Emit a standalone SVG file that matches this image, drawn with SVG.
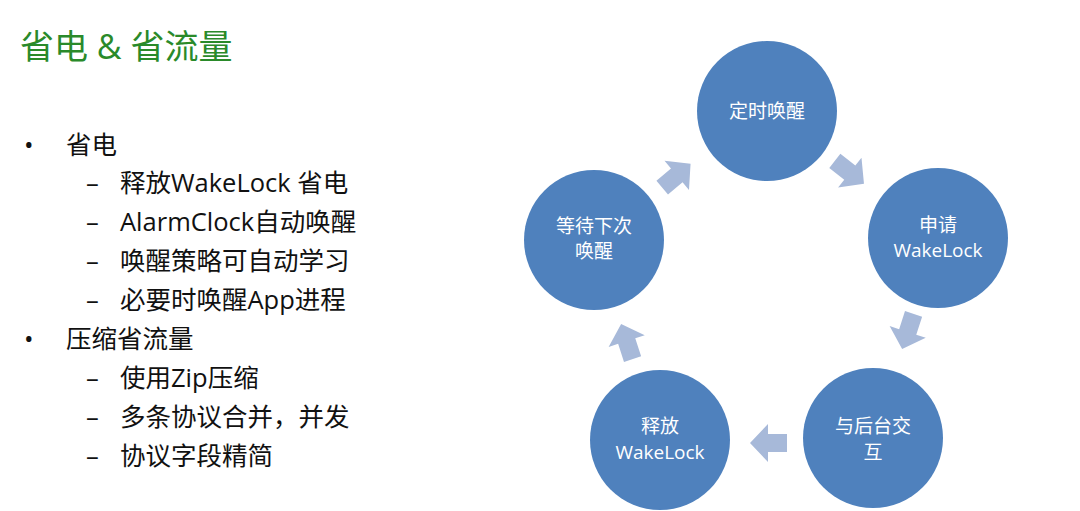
<svg xmlns="http://www.w3.org/2000/svg" width="1080" height="511" viewBox="0 0 1080 511">
<style>
text{font-family:"Open Sans","Noto Sans CJK SC",sans-serif}
.t{fill:#2a8a2a;font-size:34px}
.b{fill:#111;font-size:25.5px}
.c{fill:#4f81bd}
.l{fill:#fff;font-size:19px;text-anchor:middle}
.a{fill:#a7b9d9}
</style>
<defs><polygon id="arr" points="-18,-9 1,-9 1,-19 19,0 1,19 1,9 -18,9"/></defs>
<rect width="1080" height="511" fill="#fff"/>
<text class="t" x="20" y="59">省电 &amp; 省流量</text>
<g class="b">
<text x="24" y="154">•</text><text x="66" y="154">省电</text>
<text x="86" y="192">–</text><text x="120" y="192">释放WakeLock 省电</text>
<text x="86" y="231">–</text><text x="120" y="231">AlarmClock自动唤醒</text>
<text x="86" y="270">–</text><text x="120" y="270">唤醒策略可自动学习</text>
<text x="86" y="309">–</text><text x="120" y="309">必要时唤醒App进程</text>
<text x="24" y="348">•</text><text x="66" y="348">压缩省流量</text>
<text x="86" y="387">–</text><text x="120" y="387">使用Zip压缩</text>
<text x="86" y="426">–</text><text x="120" y="426">多条协议合并，并发</text>
<text x="86" y="465">–</text><text x="120" y="465">协议字段精简</text>
</g>
<g id="connectors" class="a">
<use href="#arr" transform="translate(676,176) rotate(-40)"/>
<use href="#arr" transform="translate(849,172) rotate(38)"/>
<use href="#arr" transform="translate(908,331) rotate(108)"/>
<use href="#arr" transform="translate(769,443) rotate(180)"/>
<use href="#arr" transform="translate(627,342) rotate(-108)"/>
</g>
<g id="n1"><circle class="c" cx="767" cy="111" r="70"/><text class="l" x="767" y="118">定时唤醒</text></g>
<g id="n2"><circle class="c" cx="938" cy="238" r="70"/><text class="l" x="938" y="232">申请</text><text class="l" x="938" y="257">WakeLock</text></g>
<g id="n3"><circle class="c" cx="873" cy="438" r="70"/><text class="l" x="873" y="433">与后台交</text><text class="l" x="873" y="459">互</text></g>
<g id="n4"><circle class="c" cx="660" cy="440" r="70"/><text class="l" x="660" y="433">释放</text><text class="l" x="660" y="459">WakeLock</text></g>
<g id="n5"><circle class="c" cx="594" cy="240" r="70"/><text class="l" x="594" y="233">等待下次</text><text class="l" x="594" y="258">唤醒</text></g>
</svg>
